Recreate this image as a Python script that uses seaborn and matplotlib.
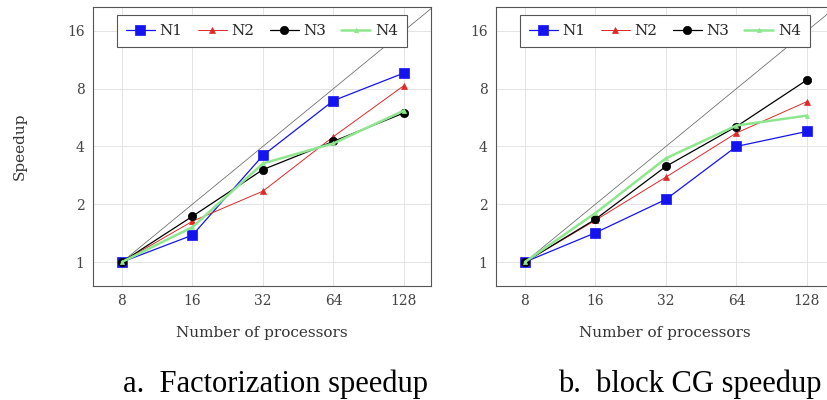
import numpy as np
import pandas as pd
import seaborn as sns
import matplotlib
matplotlib.use("Agg")
import matplotlib.pyplot as plt

procs = [8, 16, 32, 64, 128]
series = ["N1", "N2", "N3", "N4"]

# factorization speedup
fact_n1 = [1.0, 1.38, 3.59, 6.93, 9.65]
fact_n2 = [1.0, 1.63, 2.34, 4.50, 8.30]
fact_n3 = [1.0, 1.73, 3.03, 4.25, 5.98]
fact_n4 = [1.0, 1.52, 3.26, 4.15, 6.15]

# block CG speedup
cg_n1 = [1.0, 1.42, 2.12, 4.00, 4.79]
cg_n2 = [1.0, 1.65, 2.77, 4.70, 6.85]
cg_n3 = [1.0, 1.67, 3.15, 5.08, 8.88]
cg_n4 = [1.0, 1.80, 3.47, 5.14, 5.79]

ideal_procs = [8, 256]
ideal_speedup = [1, 32]

xticks = [8, 16, 32, 64, 128]
yticks = [1, 2, 4, 8, 16]
captions = ["a.  Factorization speedup", "b.  block CG speedup"]

sns.set_style("white")
plt.rcParams["font.family"] = ["DejaVu Serif", "Liberation Serif"]


def long_df(vals):
    rows = []
    for name, v in zip(series, vals):
        for p, s in zip(procs, v):
            rows.append({"procs": p, "speedup": s, "series": name})
    return pd.DataFrame(rows)


fact_df = long_df([fact_n1, fact_n2, fact_n3, fact_n4])
cg_df = long_df([cg_n1, cg_n2, cg_n3, cg_n4])

styles = {
    "N1": dict(color="#1414f0", marker="s", markersize=6.5, linewidth=0.9),
    "N2": dict(color="#e02828", marker="^", markersize=4.0, linewidth=0.7),
    "N3": dict(color="black", marker="o", markersize=6.0, linewidth=0.9),
    "N4": dict(color="#8ee68e", marker="^", markersize=3.0, linewidth=1.8),
}

W, H = 827, 400
fig = plt.figure(figsize=(8.27, 4.0), dpi=100)
ax1 = fig.add_axes([93 / W, 1 - 286 / H, 338 / W, 279 / H])
ax2 = fig.add_axes([496 / W, 1 - 286 / H, 338 / W, 279 / H])

for ax, df in [(ax1, fact_df), (ax2, cg_df)]:
    ax.plot(ideal_procs, ideal_speedup, color="#666666", linewidth=0.55, zorder=2)
    for name in series:
        st = styles[name]
        sns.lineplot(data=df[df["series"] == name], x="procs", y="speedup",
                     ax=ax, label=name, color=st["color"], marker=st["marker"],
                     markersize=st["markersize"], linewidth=st["linewidth"],
                     markeredgewidth=0.5, markeredgecolor=st["color"], zorder=3)
    ax.set_xscale("log", base=2)
    ax.set_yscale("log", base=2)
    ax.set_xlim(6.02, 167)
    ax.set_ylim(0.75, 21.3)
    ax.set_xticks(xticks)
    ax.set_xticklabels([str(t) for t in xticks])
    ax.set_yticks(yticks)
    ax.set_yticklabels([str(t) for t in yticks])
    ax.minorticks_off()
    ax.grid(True, color="#e4e4e4", linewidth=0.7)
    ax.tick_params(axis="both", labelsize=10, length=4, width=0.5,
                   direction="inout", colors="#444444", pad=4)
    for sp in ax.spines.values():
        sp.set_color("#555555")
        sp.set_linewidth(0.8)
    ax.set_xlabel("Number of processors", fontsize=11, color="#333333", labelpad=12.5)
    ax.set_ylabel("")
    leg = ax.legend(loc="upper center", bbox_to_anchor=(0.5, 0.971), ncol=4,
                    fontsize=11, frameon=True, fancybox=False, framealpha=1,
                    handlelength=1.9, handletextpad=0.3, columnspacing=1.0,
                    borderpad=0.6, borderaxespad=0, edgecolor="#555555")
    leg.get_frame().set_linewidth(0.8)
    leg.set_zorder(5)

fig.text(20 / W, 1 - 146.5 / H, "Speedup", rotation=90, ha="center", va="center",
         fontsize=11, color="#333333")

fig.text(123 / W, 8 / H, captions[0], ha="left", va="baseline",
         fontsize=22, color="black", family="Liberation Serif")
fig.text(558 / W, 8 / H, captions[1], ha="left", va="baseline",
         fontsize=22, color="black", family="Liberation Serif")

fig.savefig("out.png", dpi=100)
